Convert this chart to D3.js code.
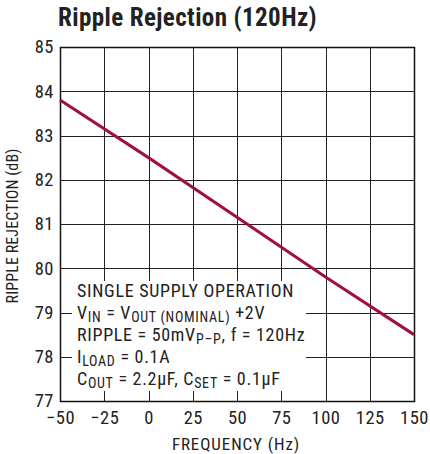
<!DOCTYPE html>
<html><head><meta charset="utf-8">
<script src="https://cdn.jsdelivr.net/npm/d3@7"></script>
<style>body{margin:0;background:#fff}svg{display:block}</style>
</head><body>
<svg id="c" width="430" height="454"></svg>
<script>
const title = "Ripple Rejection (120Hz)";
const xLabel = "FREQUENCY (Hz)";
const yLabel = "RIPPLE REJECTION (dB)";
const xTicks = [-50, -25, 0, 25, 50, 75, 100, 125, 150];
const xTickLabels = ["\u221250", "\u221225", "0", "25", "50", "75", "100", "125", "150"];
const yTicks = [77, 78, 79, 80, 81, 82, 83, 84, 85];
const freq = [-50, 0, 50, 100, 150];
const rejection = [83.8, 82.5, 81.15, 79.8, 78.5];

const FONT = "'Liberation Sans Narrow','Roboto Condensed','Arial Narrow',sans-serif";
const svg = d3.select("#c");
const m = {l: 60, r: 16, t: 47, b: 53};
const W = 430, H = 454;
const x = d3.scaleLinear().domain([-50, 150]).range([m.l, W - m.r]);
const y = d3.scaleLinear().domain([77, 85]).range([H - m.b, m.t]);

// gridlines
const g = svg.append("g");
g.selectAll(".vg").data(xTicks).join("line")
  .attr("x1", d => Math.round(x(d)) + 0.5).attr("x2", d => Math.round(x(d)) + 0.5)
  .attr("y1", y(77)).attr("y2", y(85)).attr("stroke", "#222").attr("stroke-width", 1);
g.selectAll(".hg").data(yTicks).join("line")
  .attr("y1", d => Math.round(y(d)) + 0.5).attr("y2", d => Math.round(y(d)) + 0.5)
  .attr("x1", x(-50)).attr("x2", x(150)).attr("stroke", "#222").attr("stroke-width", 1);

// annotation box background
svg.append("rect").attr("x", 72).attr("y", 281).attr("width", 234).attr("height", 110).attr("fill", "#fff");

// frame
svg.append("rect").attr("x", Math.round(x(-50)) + 0.5).attr("y", Math.round(y(85)) + 0.5)
  .attr("width", Math.round(x(150)) - Math.round(x(-50))).attr("height", Math.round(y(77)) - Math.round(y(85)))
  .attr("fill", "none").attr("stroke", "#111").attr("stroke-width", 1.5);

// line
svg.append("path").datum(freq.map((f, i) => [f, rejection[i]]))
  .attr("d", d3.line().x(d => x(d[0])).y(d => y(d[1])))
  .attr("fill", "none").attr("stroke", "#a0103a").attr("stroke-width", 3);

// axes labels
const xa = d3.axisBottom(x).tickValues(xTicks).tickFormat((d, i) => xTickLabels[i]).tickSize(0).tickPadding(10);
const xg = svg.append("g").attr("transform", `translate(0,${y(77)})`).call(xa);
xg.select(".domain").remove();
xg.selectAll("text").attr("font-family", FONT).attr("font-size", 18.5).attr("letter-spacing", 0.5).attr("fill", "#222");

const ya = d3.axisLeft(y).tickValues(yTicks).tickFormat(d3.format("d")).tickSize(0).tickPadding(6);
const yg = svg.append("g").attr("transform", `translate(${x(-50)},0)`).call(ya);
yg.select(".domain").remove();
yg.selectAll("text").attr("font-family", FONT).attr("font-size", 18.5).attr("letter-spacing", 0.5).attr("fill", "#222");

svg.append("text").attr("x", 58).attr("y", 26).text(title)
  .attr("font-family", FONT).attr("font-weight", "bold").attr("font-size", 25).attr("letter-spacing", 0.4).attr("fill", "#222");
svg.append("text").attr("x", 236).attr("y", 450).attr("text-anchor", "middle").text(xLabel)
  .attr("font-family", FONT).attr("font-size", 17).attr("letter-spacing", 0.9).attr("fill", "#222");
svg.append("text").attr("transform", "translate(18,226) rotate(-90)").attr("text-anchor", "middle").text(yLabel)
  .attr("font-family", FONT).attr("font-size", 16).attr("letter-spacing", 0.1).attr("fill", "#222");

// annotation
const notes = [
  [["SINGLE SUPPLY OPERATION", 0]],
  [["V", 0], ["IN", 1], [" = V", 0], ["OUT (NOMINAL)", 1], [" +2V", 0]],
  [["RIPPLE = 50mV", 0], ["P\u2013P", 1], [", f = 120Hz", 0]],
  [["I", 0], ["LOAD", 1], [" = 0.1A", 0]],
  [["C", 0], ["OUT", 1], [" = 2.2\u00b5F, C", 0], ["SET", 1], [" = 0.1\u00b5F", 0]]
];
const at = svg.append("g").attr("font-family", FONT).attr("fill", "#222").attr("letter-spacing", 0.7);
notes.forEach((line, i) => {
  const t = at.append("text").attr("x", 77).attr("y", 297 + i * 22);
  line.forEach(([s, sub]) => {
    t.append("tspan").text(s).attr("font-size", sub ? 14 : 18)
      .attr("baseline-shift", sub ? "-2.5" : null);
  });
});
</script>
</body></html>
